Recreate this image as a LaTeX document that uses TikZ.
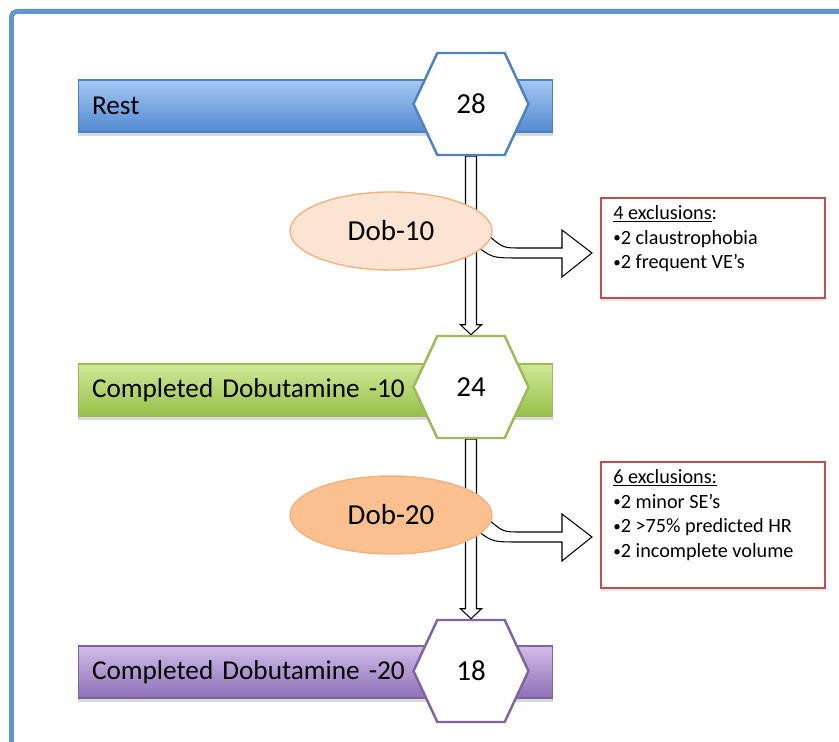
\documentclass[tikz,border=0pt]{standalone}
\usepackage{fontspec}
\setmainfont{Carlito}
\usetikzlibrary{calc,positioning,shapes.geometric,shapes.symbols,shadows,backgrounds}

\definecolor{frameblue}{RGB}{100,148,204}
\definecolor{resttop}{RGB}{163,200,243}
\definecolor{restbot}{RGB}{82,138,210}
\definecolor{restline}{RGB}{79,129,189}
\definecolor{greentop}{RGB}{208,232,153}
\definecolor{greenbot}{RGB}{150,192,72}
\definecolor{greenline}{RGB}{155,187,89}
\definecolor{purpletop}{RGB}{208,188,232}
\definecolor{purplebot}{RGB}{142,112,182}
\definecolor{purpleline}{RGB}{128,100,162}
\definecolor{peachlight}{RGB}{252,228,211}
\definecolor{peach}{RGB}{250,192,143}
\definecolor{doseline}{RGB}{242,178,130}
\definecolor{exclred}{RGB}{192,80,77}
\newcommand{\exbul}{\raisebox{0.15ex}{\scalebox{0.75}{•}}}

\begin{document}
\begin{tikzpicture}[x=0.02cm,y=-0.02cm,
  bar/.style={rectangle, minimum width=9.5cm, minimum height=1.04cm,
    text width=8.94cm, inner xsep=0.28cm, align=left, line width=0.6pt,
    font=\fontsize{15.5}{18}\selectfont,
    drop shadow={shadow xshift=0pt, shadow yshift=-2.5pt, opacity=0.3}},
  hexnum/.style={signal, signal to=west and east, signal pointer angle=130,
    minimum width=2.3cm, minimum height=2.04cm, fill=white, line width=1.4pt,
    font=\fontsize{16.5}{20}\selectfont},
  dose/.style={ellipse, minimum width=4.04cm, minimum height=1.56cm,
    draw=doseline, line width=0.8pt, font=\fontsize{16.5}{20}\selectfont},
  excl/.style={rectangle, draw=exclred, line width=1.2pt, fill=white,
    inner xsep=7pt, inner ysep=4pt, font=\fontsize{11.5}{14.2}\selectfont,
    drop shadow={shadow xshift=0pt, shadow yshift=-1.5pt, opacity=0.2}},
  hollowarrow/.style={draw=black, fill=white, line width=0.6pt}]
  \useasboundingbox (0,0) rectangle (839,742);
  \clip (0,0) rectangle (839,742);
  \draw[frameblue, line width=0.1cm, rounded corners=3pt] (11.5,11.5) rectangle (900,800);

  % stages
  \node[bar, top color=resttop, bottom color=restbot, draw=restline] (rest) at (315.5,106) {Rest};
  \node[hexnum, draw=restline] (n28) at (471,104) {28};
  \node[bar, top color=greentop, bottom color=greenbot, draw=greenline] (done10) at (315.5,390) {Completed Dobutamine -10};
  \node[hexnum, draw=greenline] (n24) at (471,387) {24};
  \node[bar, top color=purpletop, bottom color=purplebot, draw=purpleline] (done20) at (315.5,672) {Completed Dobutamine -20};
  \node[hexnum, draw=purpleline] (n18) at (471,671) {18};

  % doses
  \node[dose, fill=peachlight] (dob10) at (391,231) {Dob-10};
  \node[dose, fill=peach] (dob20) at (391,515) {Dob-20};

  % exclusions
  \node[excl] (excl1) at (713,248) {\begin{minipage}[t][\dimexpr2cm-8pt][t]{\dimexpr4.48cm-14pt}\raggedright
    \underline{4 exclusions}:\\
    \exbul2 claustrophobia\\
    \exbul2 frequent VE’s\end{minipage}};
  \node[excl] (excl2) at (713,525) {\begin{minipage}[t][\dimexpr2.52cm-8pt][t]{\dimexpr4.48cm-14pt}\raggedright
    \underline{6 exclusions:}\\
    \exbul2 minor SE’s\\
    \exbul2 >75\% predicted HR\\
    \exbul2 incomplete volume\end{minipage}};

  \begin{pgfonlayer}{background}
    \draw[hollowarrow] ($(n28.south)+(-5.5,0)$) -- ($(n24.north)+(-5.5,-10)$) -- ++(-5,0) -- (n24.north)
      -- ++(10.5,-10) -- ++(-5,0) -- ($(n28.south)+(5.5,0)$) -- cycle;
    \draw[hollowarrow] ($(n24.south)+(-5.5,0)$) -- ($(n18.north)+(-5.5,-10)$) -- ++(-5,0) -- (n18.north)
      -- ++(10.5,-10) -- ++(-5,0) -- ($(n24.south)+(5.5,0)$) -- cycle;
    \draw[hollowarrow] ($(dob10.center)+(97,4)$) .. controls ($(dob10.center)+(112,17)$) .. ($(dob10.center)+(130,17)$)
      -- ($(excl1.west |- dob10.center)+(-38,17)$) -- ++(0,-18) -- ($(excl1.west |- dob10.center)+(-8,22)$)
      -- ++(-30,24) -- ++(0,-19) -- ($(dob10.center)+(130,27)$)
      .. controls ($(dob10.center)+(102,27)$) .. ($(dob10.center)+(88,17)$) -- cycle;
    \draw[hollowarrow] ($(dob20.center)+(97,4)$) .. controls ($(dob20.center)+(112,17)$) .. ($(dob20.center)+(130,17)$)
      -- ($(excl2.west |- dob20.center)+(-38,17)$) -- ++(0,-18) -- ($(excl2.west |- dob20.center)+(-8,22)$)
      -- ++(-30,24) -- ++(0,-19) -- ($(dob20.center)+(130,27)$)
      .. controls ($(dob20.center)+(102,27)$) .. ($(dob20.center)+(88,17)$) -- cycle;
  \end{pgfonlayer}
\end{tikzpicture}
\end{document}
